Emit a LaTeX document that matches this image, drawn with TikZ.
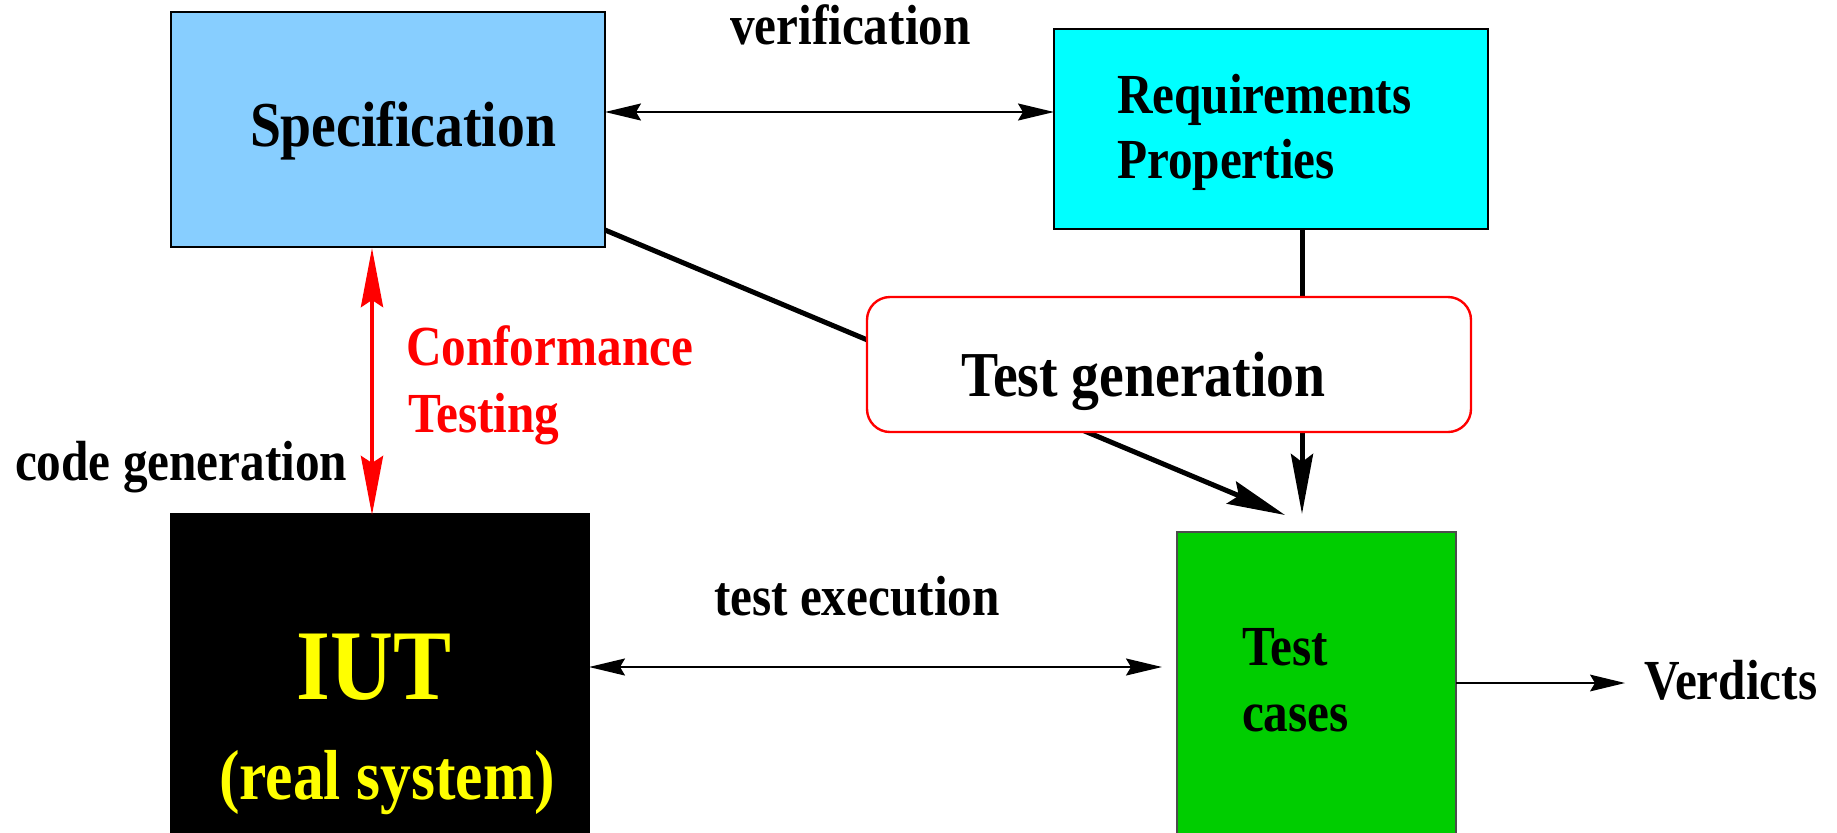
\documentclass[tikz,border=0pt]{standalone}
\usepackage{fontspec}
\setmainfont{Liberation Serif}[FakeStretch=0.87]
\usetikzlibrary{arrows.meta}
\definecolor{specblue}{RGB}{135,206,255}
\definecolor{reqcyan}{RGB}{0,255,255}
\definecolor{tcgreen}{RGB}{0,205,0}
\definecolor{tgred}{RGB}{255,0,0}
\definecolor{iutyellow}{RGB}{255,255,0}
\begin{document}
\begin{tikzpicture}[x=0.5pt,y=-0.5pt,
  box/.style={draw=black,line width=0.6pt,inner sep=0pt,outer sep=0pt,anchor=north west},
  lbl/.style={inner sep=0pt,outer sep=0pt,anchor=base west,font=\bfseries\fontsize{28.3}{34}\selectfont},
  biglbl/.style={lbl,font=\bfseries\fontsize{32}{38}\selectfont},
  thinarrow/.style={line width=1pt,{Stealth[length=18pt,width=8.5pt,inset=2.5pt]}-{Stealth[length=18pt,width=8.5pt,inset=2.5pt]}},
  heavyline/.style={line width=2.5pt},
  heavytip/.style={-{Stealth[length=29pt,width=12pt,inset=4pt]}},
]
\useasboundingbox (0,0) rectangle (1837,832);
% boxes
\node[box,fill=specblue,minimum width=217pt,minimum height=117.5pt] (spec) at (171,12) {};
\node[box,fill=reqcyan,minimum width=217pt,minimum height=100pt] (req) at (1054,29) {};
\node[box,fill=black,minimum width=209pt,minimum height=163pt] (iut) at (171,514) {};
\node[box,draw=black!70,fill=tcgreen,minimum width=139.5pt,minimum height=154pt] (tc) at (1177,532) {};
% coordinates for connector ends
\coordinate (vy) at (800,112);
\coordinate (dstart) at (605,230);
\coordinate (dtip) at (1285,515);
\coordinate (vx) at (1302,514);
\coordinate (rtop) at (372,248);
\coordinate (rbot) at (372,515);
\coordinate (ey) at (1162,667);
\coordinate (vd) at (1625,683);
% heavy lines to test cases (behind test generation box)
\draw[heavyline,heavytip] (dstart) -- (dtip);
\draw[heavyline,-{Stealth[length=30pt,width=11pt,inset=4pt]}] (req.south -| vx) -- (vx);
% test generation box
\node[box,draw=tgred,line width=1.2pt,fill=white,rounded corners=11.5pt,minimum width=302pt,minimum height=67.5pt] (tg) at (867,297) {};
% arrows
\draw[thinarrow] (spec.east |- vy) -- (req.west |- vy);
\draw[thinarrow] (iut.east |- ey) -- (ey);
\draw[tgred,line width=2.2pt,{Stealth[length=29.5pt,width=11pt,inset=3.5pt]}-{Stealth[length=29.5pt,width=11pt,inset=3.5pt]}] (rtop) -- (rbot);
\draw[line width=0.6pt,-{Stealth[length=17.5pt,width=8.4pt,inset=2.5pt]}] (tc.east |- vd) -- (vd);
% labels
\node[lbl] (tverif) at (730,44) {verification};
\node[biglbl] (tspec) at (250,146) {Specification};
\node[lbl] (treq) at (1117,113) {Requirements};
\node[lbl] (tprop) at (1117,178) {Properties};
\node[biglbl] (ttg) at (961,396) {Test generation};
\node[lbl,text=tgred] (tconf) at (406,365) {Conformance};
\node[lbl,text=tgred] (ttest) at (408,432) {Testing};
\node[lbl] (tcode) at (15,480) {code generation};
\node[inner sep=0pt,anchor=base,text=iutyellow,font=\bfseries\fontsize{50}{60}\selectfont] (tiut) at (374,699) {IUT};
\node[inner sep=0pt,anchor=base,text=iutyellow,font=\bfseries\fontsize{35.4}{42}\selectfont] (treal) at (387,799) {(real system)};
\node[lbl] (texec) at (714,615) {test execution};
\node[lbl] (ttc1) at (1242,665) {Test};
\node[lbl] (ttc2) at (1242,731) {cases};
\node[lbl] (tverd) at (1644,699) {Verdicts};
\end{tikzpicture}
\end{document}
